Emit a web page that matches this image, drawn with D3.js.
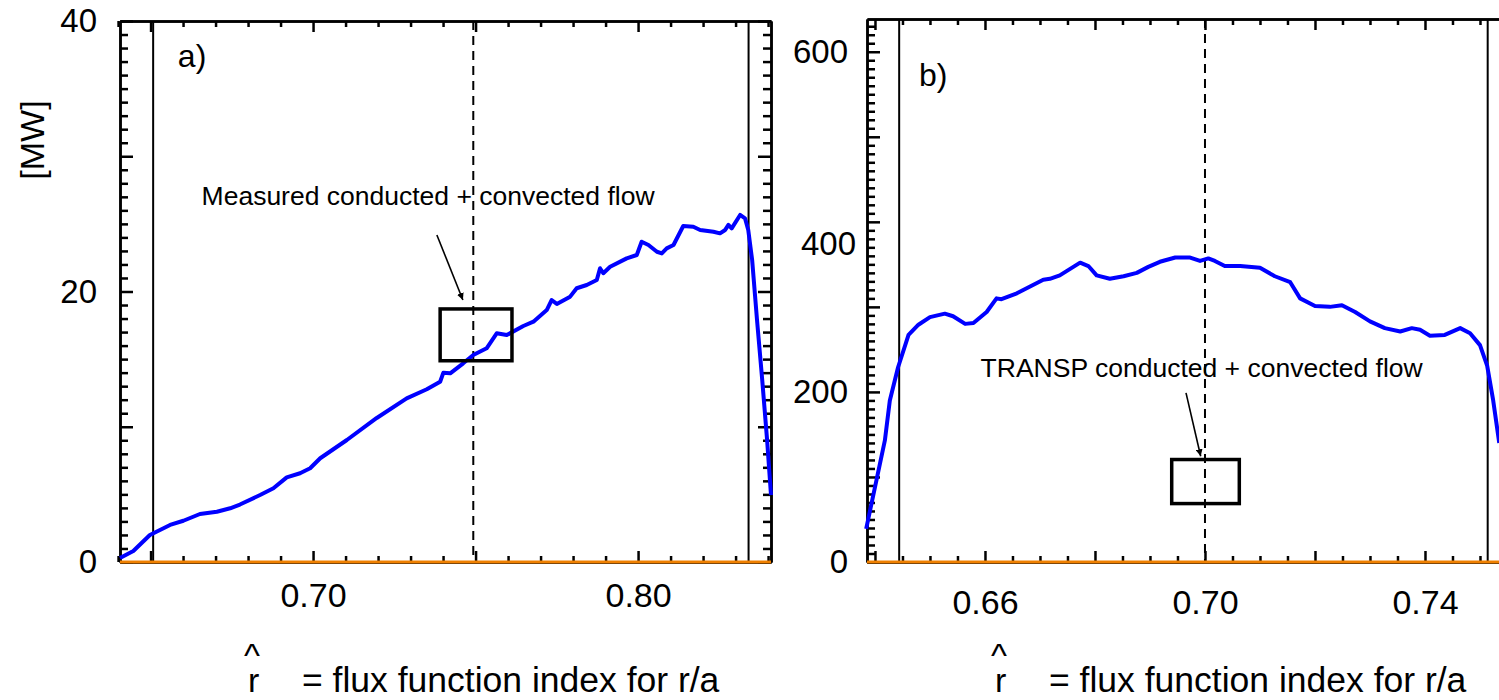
<!DOCTYPE html>
<html lang="en">
<head>
<meta charset="UTF-8">
<title>Conducted + convected flow</title>
<script src="https://d3js.org/d3.v7.min.js"></script>
<style>
  body { margin: 0; background: #fff; }
  svg text { font-family: "Liberation Sans", Arial, sans-serif; fill: #000; }
  .axis path { stroke: #000; stroke-width: 2.5; fill: none; }
  .axis line { stroke: #000; stroke-width: 2.5; }
  .axis text { font-size: 33px; }
  .xaxis text { font-size: 34px; }
</style>
</head>
<body>
<div id="chart"></div>
<script>
// panel a) measured conducted + convected flow [MW] vs r-hat
const rA = [0.6406, 0.6447, 0.6498, 0.6560, 0.6601, 0.6652, 0.6704, 0.6745, 0.6775, 0.6837,
            0.6878, 0.6919, 0.6960, 0.6991, 0.7022, 0.7104, 0.7196, 0.7288, 0.7350, 0.7391,
            0.7401, 0.7422, 0.7462, 0.7493, 0.7534, 0.7565, 0.7596, 0.7647, 0.7678, 0.7719,
            0.7734, 0.7750, 0.7791, 0.7811, 0.7842, 0.7873, 0.7883, 0.7893, 0.7914, 0.7965,
            0.7996, 0.8011, 0.8032, 0.8058, 0.8073, 0.8088, 0.8109, 0.8139, 0.8170, 0.8191,
            0.8232, 0.8252, 0.8268, 0.8278, 0.8288, 0.8314, 0.8329, 0.8339, 0.8351, 0.8366,
            0.8382, 0.8397, 0.8409];
const pA = [0.30, 0.81, 2.00, 2.74, 3.05, 3.55, 3.72, 3.97, 4.25, 4.95,
            5.45, 6.26, 6.56, 6.93, 7.67, 9.02, 10.65, 12.10, 12.77, 13.33,
            14.00, 13.95, 14.69, 15.30, 15.80, 16.91, 16.78, 17.45, 17.77, 18.63,
            19.37, 19.08, 19.62, 20.24, 20.48, 20.85, 21.72, 21.35, 21.83, 22.45,
            22.70, 23.68, 23.44, 22.94, 22.82, 23.19, 23.44, 24.84, 24.79, 24.55,
            24.42, 24.30, 24.55, 24.92, 24.67, 25.66, 25.41, 24.55, 22.33, 17.89,
            13.46, 9.02, 4.95];

// panel b) TRANSP conducted + convected flow vs r-hat
const rB = [0.6384, 0.6418, 0.6427, 0.6442, 0.6461, 0.6479, 0.6500, 0.6527, 0.6542, 0.6564,
            0.6579, 0.6603, 0.6621, 0.6630, 0.6658, 0.6682, 0.6706, 0.6718, 0.6736, 0.6773,
            0.6788, 0.6803, 0.6827, 0.6852, 0.6876, 0.6897, 0.6918, 0.6946, 0.6973, 0.6991,
            0.7006, 0.7018, 0.7036, 0.7064, 0.7100, 0.7127, 0.7155, 0.7173, 0.7200, 0.7227,
            0.7249, 0.7273, 0.7300, 0.7327, 0.7355, 0.7376, 0.7391, 0.7409, 0.7436, 0.7464,
            0.7482, 0.7500, 0.7513, 0.7524, 0.7535];
const pB = [39, 143, 190, 229, 267, 279, 288, 292, 289, 280,
            281, 294, 310, 309, 316, 324, 332, 333, 337, 352,
            348, 337, 333, 336, 340, 347, 353, 358, 358, 354,
            357, 354, 348, 348, 346, 336, 329, 310, 301, 300,
            302, 294, 283, 275, 271, 275, 273, 266, 267, 275,
            269, 255, 231, 190, 140];

// tick labels
const aXLabels = [0.70, 0.80];
const aYLabels = [0, 20, 40];
const bXLabels = [0.66, 0.70, 0.74];
const bYLabels = [0, 200, 400, 600];

// marker lines
const aSolid = [0.6508, 0.8340];
const aDashed = 0.7493;
const bSolid = [0.6444, 0.7514];
const bDashed = 0.70;

const panels = [
  { name: "a)", left: 120, right: 771, top: 21, bottom: 562,
    xDom: [0.6406, 0.8409], yDom: [0, 40], r: rA, p: pA,
    xMinor: d3.range(64, 85).map(i => i / 100), xMajor: [0.65, 0.70, 0.75, 0.80],
    yMinor: d3.range(0, 41), yMajor: [0, 10, 20, 30, 40],
    xLabels: aXLabels, yLabels: aYLabels, solid: aSolid, dashed: aDashed,
    xPad: 21, yPad: 23, rightAxis: true, yShift: {},
    tag: [0.6584, 36.6],
    note: { text: "Measured conducted + convected flow", at: [0.6657, 26.4],
            from: [0.7381, 24.18], to: [0.7461, 19.37], box: [0.7391, 0.7612, 18.71, 14.88] },
    title: 248 },
  { name: "b)", left: 867, right: 1512, top: 19, bottom: 562,
    xDom: [0.63855, 0.75582], yDom: [0, 638.5], r: rB, p: pB,
    xMinor: d3.range(0, 25).map(i => 0.64 + i * 0.005), xMajor: [0.64, 0.66, 0.68, 0.70, 0.72, 0.74],
    yMinor: d3.range(0, 64).map(i => i * 10), yMajor: [0, 100, 200, 300, 400, 500, 600],
    xLabels: bXLabels, yLabels: bYLabels, solid: bSolid, dashed: bDashed,
    xPad: 28, yPad: 19, rightAxis: false, yShift: { 400: [8, 22] },
    tag: [0.6480, 560],
    note: { text: "TRANSP conducted + convected flow", at: [0.6592, 217],
            from: [0.69655, 198.8], to: [0.69922, 124.4], box: [0.69395, 0.70624, 120.5, 68.7] },
    title: 995 }
];

const svg = d3.select("#chart").append("svg")
  .attr("width", 1499).attr("height", 700)
  .style("background", "#fff");

svg.append("defs").append("marker")
  .attr("id", "arrow")
  .attr("viewBox", "0 0 10 10")
  .attr("refX", 10).attr("refY", 5)
  .attr("markerWidth", 7).attr("markerHeight", 7)
  .attr("markerUnits", "userSpaceOnUse")
  .attr("orient", "auto")
  .append("path").attr("d", "M0,0 L10,5 L0,10 z").attr("fill", "#000");

const near = (arr, d) => arr.some(v => Math.abs(v - d) < 1e-9);

panels.forEach(P => {
  const x = d3.scaleLinear().domain(P.xDom).range([P.left, P.right]);
  const y = d3.scaleLinear().domain(P.yDom).range([P.bottom, P.top]);
  const g = svg.append("g");

  const minorOnly = (all, major) => all.filter(d => !near(major, d));

  // bottom + top x axes
  [[d3.axisBottom, P.bottom, 1], [d3.axisTop, P.top, 0]].forEach(([fn, yy, lab]) => {
    g.append("g").attr("class", "axis").attr("transform", `translate(0,${yy})`)
      .call(fn(x).tickValues(minorOnly(P.xMinor, P.xMajor)).tickSize(-6).tickSizeOuter(0).tickFormat(""));
    g.append("g").attr("class", "axis xaxis").attr("transform", `translate(0,${yy})`)
      .call(fn(x).tickValues(P.xMajor).tickSize(-11).tickSizeOuter(0).tickPadding(P.xPad)
        .tickFormat(d => lab && near(P.xLabels, d) ? d3.format(".2f")(d) : ""));
  });

  // left + right y axes
  const ySides = [[d3.axisLeft, P.left, 1]];
  if (P.rightAxis) ySides.push([d3.axisRight, P.right, 0]);
  ySides.forEach(([fn, xx, lab]) => {
    g.append("g").attr("class", "axis").attr("transform", `translate(${xx},0)`)
      .call(fn(y).tickValues(minorOnly(P.yMinor, P.yMajor)).tickSize(-8).tickSizeOuter(0).tickFormat(""));
    const ax = g.append("g").attr("class", "axis").attr("transform", `translate(${xx},0)`)
      .call(fn(y).tickValues(P.yMajor).tickSize(-13).tickSizeOuter(0).tickPadding(P.yPad)
        .tickFormat(d => lab && near(P.yLabels, d) ? d : ""));
    // one label sits a little off its tick in the original
    ax.selectAll(".tick text")
      .filter(d => P.yShift[d])
      .attr("transform", d => `translate(${P.yShift[d][0]},${P.yShift[d][1]})`);
  });

  // vertical markers
  g.selectAll(".solid").data(P.solid).enter().append("line")
    .attr("x1", d => x(d)).attr("x2", d => x(d))
    .attr("y1", P.top).attr("y2", P.bottom)
    .attr("stroke", "#000").attr("stroke-width", 2);
  g.append("line")
    .attr("x1", x(P.dashed)).attr("x2", x(P.dashed))
    .attr("y1", P.top).attr("y2", P.bottom)
    .attr("stroke", "#000").attr("stroke-width", 2)
    .attr("stroke-dasharray", "9,6");

  // zero line
  g.append("line")
    .attr("x1", P.left).attr("x2", P.right)
    .attr("y1", y(0)).attr("y2", y(0))
    .attr("stroke", "#f08000").attr("stroke-width", 3);

  // flow curve
  const line = d3.line().x(d => x(d[0])).y(d => y(d[1]));
  g.append("path")
    .datum(d3.zip(P.r, P.p))
    .attr("d", line)
    .attr("fill", "none")
    .attr("stroke", "#0000ff")
    .attr("stroke-width", 4)
    .attr("stroke-linejoin", "round");

  // annotation
  const n = P.note;
  g.append("text").attr("x", x(n.at[0])).attr("y", y(n.at[1]))
    .style("font-size", "26.5px").text(n.text);
  g.append("line")
    .attr("x1", x(n.from[0])).attr("y1", y(n.from[1]))
    .attr("x2", x(n.to[0])).attr("y2", y(n.to[1]))
    .attr("stroke", "#000").attr("stroke-width", 1.6)
    .attr("marker-end", "url(#arrow)");
  g.append("rect")
    .attr("x", x(n.box[0])).attr("y", y(n.box[2]))
    .attr("width", x(n.box[1]) - x(n.box[0]))
    .attr("height", y(n.box[3]) - y(n.box[2]))
    .attr("fill", "none").attr("stroke", "#000").attr("stroke-width", 3.5);

  // panel tag
  g.append("text").attr("x", x(P.tag[0])).attr("y", y(P.tag[1]))
    .style("font-size", "32px").text(P.name);

  // x-axis title: r-hat = flux function index for r/a
  g.append("text").attr("x", P.title + 4).attr("y", 667)
    .attr("text-anchor", "middle").style("font-size", "34px").text("^");
  g.append("text").attr("x", P.title).attr("y", 692)
    .style("font-size", "34px").text("r");
  g.append("text").attr("x", P.title + 54).attr("y", 692)
    .style("font-size", "35.5px").text("= flux function index for r/a");
});

// y-axis unit, panel a
svg.append("text")
  .attr("transform", "translate(44,140) rotate(-90)")
  .attr("text-anchor", "middle")
  .style("font-size", "34px")
  .text("[MW]");
</script>
</body>
</html>
